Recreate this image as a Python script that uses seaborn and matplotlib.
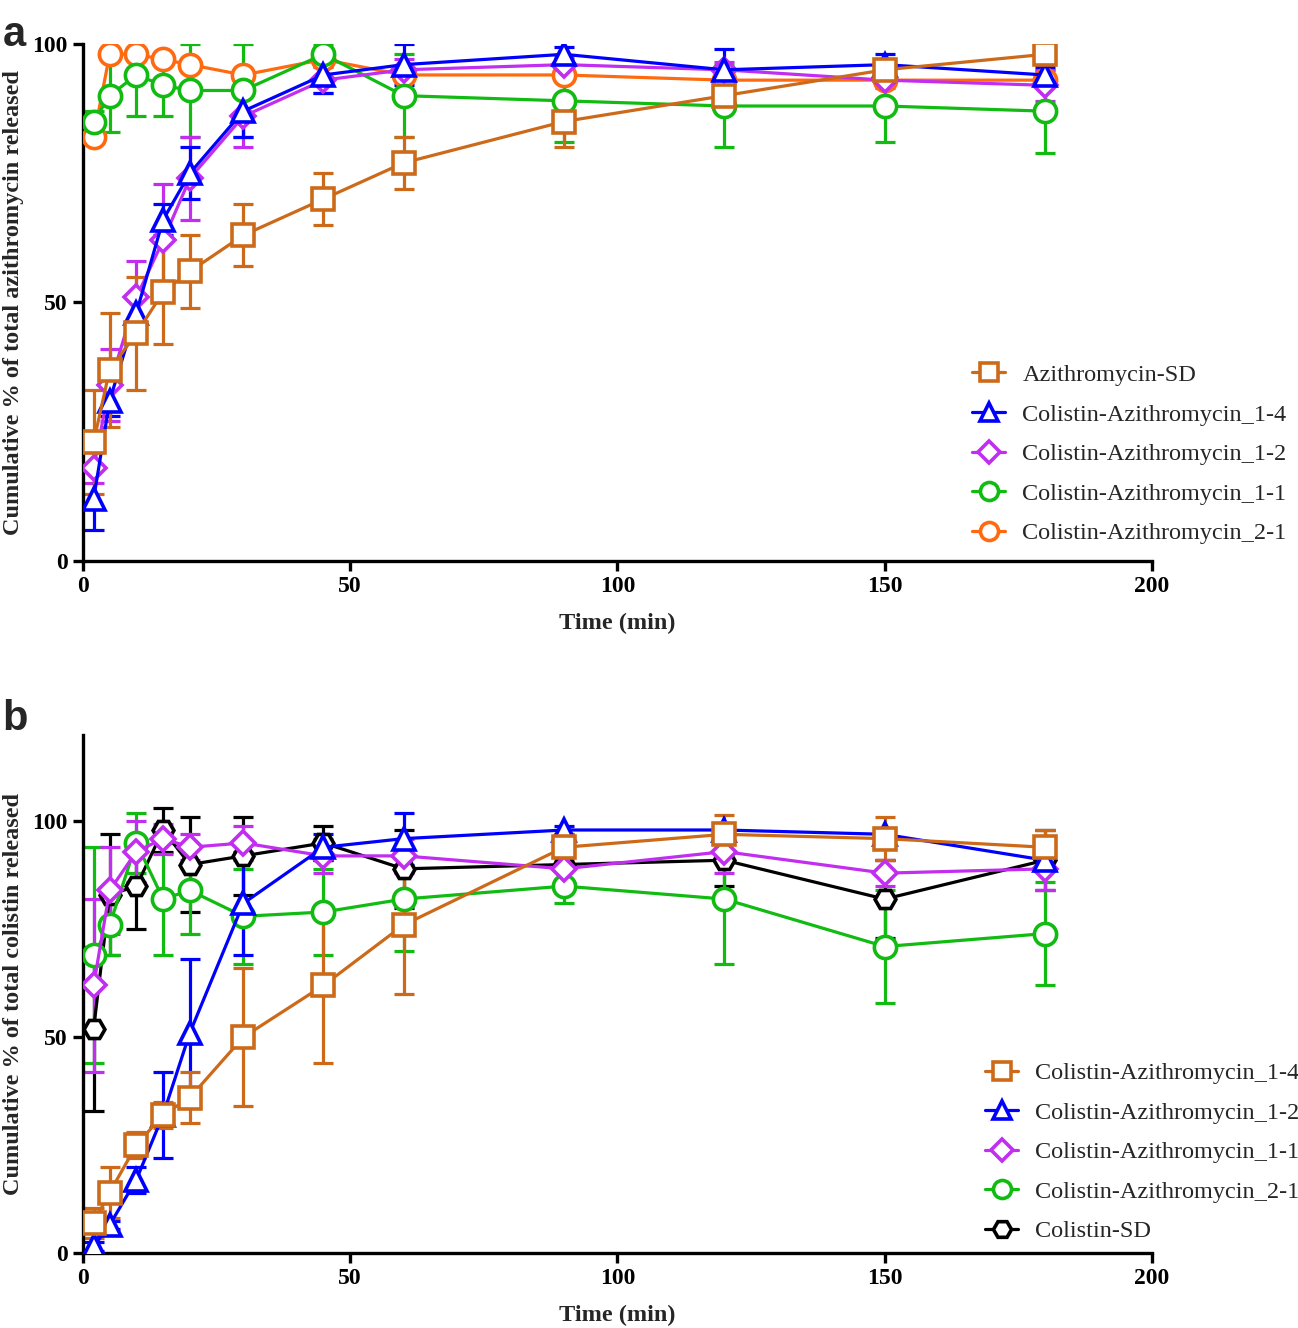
import matplotlib
matplotlib.use("Agg")
import matplotlib.pyplot as plt
import seaborn as sns

sns.set_theme(style="ticks")
plt.rcParams['font.family'] = ['Liberation Serif', 'DejaVu Serif']

# time points (min)
time = [2, 5, 10, 15, 20, 30, 45, 60, 90, 120, 150, 180]

# panel a: azithromycin release
a_labels = ["Azithromycin-SD", "Colistin-Azithromycin_1-4", "Colistin-Azithromycin_1-2",
            "Colistin-Azithromycin_1-1", "Colistin-Azithromycin_2-1"]
a_sd = [23, 37, 44, 52, 56, 63, 70, 77, 85, 90, 95, 98]
a_sd_err = [10, 11, 11, 10, 7, 6, 5, 5, 5, 3, 1.5, 1]
a_14 = [12, 31, 48, 66, 75, 87, 94, 96, 98, 95, 96, 94]
a_14_err = [6, 3, 3, 3, 5, 5, 3.5, 4, 1.5, 4, 2, 1.5]
a_12 = [18, 34, 51, 62, 74, 86, 93, 95, 96, 95, 93, 92]
a_12_err = [3, 7, 7, 11, 8, 6, 2.5, 2, 1.5, 1.5, 1.5, 3]
a_11 = [85, 90, 94, 92, 91, 91, 98, 90, 89, 88, 88, 87]
a_11_err = [2, 7, 8, 6, 9, 9, 2, 8, 8, 8, 7, 8]
a_21 = [82, 98, 98, 97, 96, 94, 97, 94, 94, 93, 93, 93]
a_21_err = [1, 1, 1, 1, 1, 1, 1, 1, 1, 1, 1, 1]

# panel b: colistin release
b_labels = ["Colistin-Azithromycin_1-4", "Colistin-Azithromycin_1-2", "Colistin-Azithromycin_1-1",
            "Colistin-Azithromycin_2-1", "Colistin-SD"]
b_14 = [7, 14, 25, 32, 36, 50, 62, 76, 94, 97, 96, 94]
b_14_err = [3.5, 6, 3, 3, 6, 16, 18, 16, 3, 4.5, 5, 4]
b_12 = [1.5, 6.5, 17, 32, 51, 81, 94, 96, 98, 98, 97, 91]
b_12_err = [1, 1, 3, 10, 17, 12, 3, 6, 1, 1, 1, 1]
b_11 = [62, 84, 93, 96, 94, 95, 92, 92, 89, 93, 88, 89]
b_11_err = [20, 10, 7, 3.5, 3, 4, 4, 4, 3, 5, 3, 5]
b_21 = [69, 76, 95, 82, 84, 78, 79, 82, 85, 82, 71, 74]
b_21_err = [25, 7, 7, 13, 10, 11, 10, 12, 4, 15, 13, 12]
b_sd = [52, 83, 85, 98, 90, 92, 95, 89, 90, 91, 82, 91]
b_sd_err = [19, 14, 10, 5, 11, 9, 4, 9, 6, 6, 9, 7]

BROWN = "#CC6A1A"
BLUE = "#0000FF"
PURPLE = "#C22EF0"
GREEN = "#12BB12"
ORANGE = "#FF6A10"
BLACK = "#000000"

MSIZE = {"s": 16, "^": 16, "D": 12, "o": 16, "H": 15}


def draw_series(ax, y, err, color, marker, label):
    ax.errorbar(time, y, yerr=err, fmt='none', ecolor=color, elinewidth=2.3,
                capsize=7, capthick=2.3, zorder=2)
    sns.lineplot(x=time, y=y, ax=ax, color=color, linewidth=2.3, marker=marker,
                 markersize=MSIZE[marker], markerfacecolor="white", markeredgecolor=color,
                 markeredgewidth=2.6, label=label, zorder=3)


def style_axes(ax, ylabel, ymax):
    ax.set_xlim(0, 200)
    ax.set_ylim(0, ymax)
    ax.set_xticks([0, 50, 100, 150, 200])
    ax.set_yticks([0, 50, 100])
    sns.despine(ax=ax)
    for s in ["left", "bottom"]:
        ax.spines[s].set_linewidth(2.4)
        ax.spines[s].set_color("black")
    ax.tick_params(direction="out", length=7, width=2.4, labelsize=17, pad=4, colors="black")
    for t in ax.get_xticklabels() + ax.get_yticklabels():
        t.set_fontweight("bold")
    ax.set_xlabel("Time (min)", fontsize=17.5, fontweight="bold", labelpad=11)
    ax.set_ylabel(ylabel, fontsize=17.5, fontweight="bold", labelpad=6)


fig = plt.figure(figsize=(12.98, 13.28), dpi=100)
ax1 = fig.add_axes([0.0639, 0.5776, 0.8236, 0.3893])
ax2 = fig.add_axes([0.0639, 0.0565, 0.8236, 0.3900])

# panel a, drawn back to front
a_series = [(a_sd, a_sd_err, BROWN, "s"), (a_14, a_14_err, BLUE, "^"),
            (a_12, a_12_err, PURPLE, "D"), (a_11, a_11_err, GREEN, "o"),
            (a_21, a_21_err, ORANGE, "o")]
for (y, err, c, m), lab in list(zip(a_series, a_labels))[::-1]:
    draw_series(ax1, y, err, c, m, lab)
style_axes(ax1, "Cumulative % of total azithromycin released", 100)

b_series = [(b_14, b_14_err, BROWN, "s"), (b_12, b_12_err, BLUE, "^"),
            (b_11, b_11_err, PURPLE, "D"), (b_21, b_21_err, GREEN, "o"),
            (b_sd, b_sd_err, BLACK, "H")]
for (y, err, c, m), lab in list(zip(b_series, b_labels))[::-1]:
    draw_series(ax2, y, err, c, m, lab)
style_axes(ax2, "Cumulative % of total colistin released", 120)

for ax, labels, anchor in [(ax1, a_labels, (0.832, 0.381)), (ax2, b_labels, (0.844, 0.368))]:
    handles, labs = ax.get_legend_handles_labels()
    lookup = dict(zip(labs, handles))
    ax.legend([lookup[l] for l in labels], labels, loc="upper left", bbox_to_anchor=anchor,
              frameon=False, fontsize=17.5, handlelength=1.36, handletextpad=0.7,
              labelspacing=0.72, borderpad=0, borderaxespad=0)
    for h in ax.get_legend().legend_handles:
        h.set_markersize(11 if h.get_marker() == "D" else 13)

fig.text(0.002, 0.989, "a", fontsize=30, fontweight="bold", family="Liberation Sans", va="top")
fig.text(0.002, 0.474, "b", fontsize=30, fontweight="bold", family="Liberation Sans", va="top")

fig.savefig("out.png", dpi=100)
